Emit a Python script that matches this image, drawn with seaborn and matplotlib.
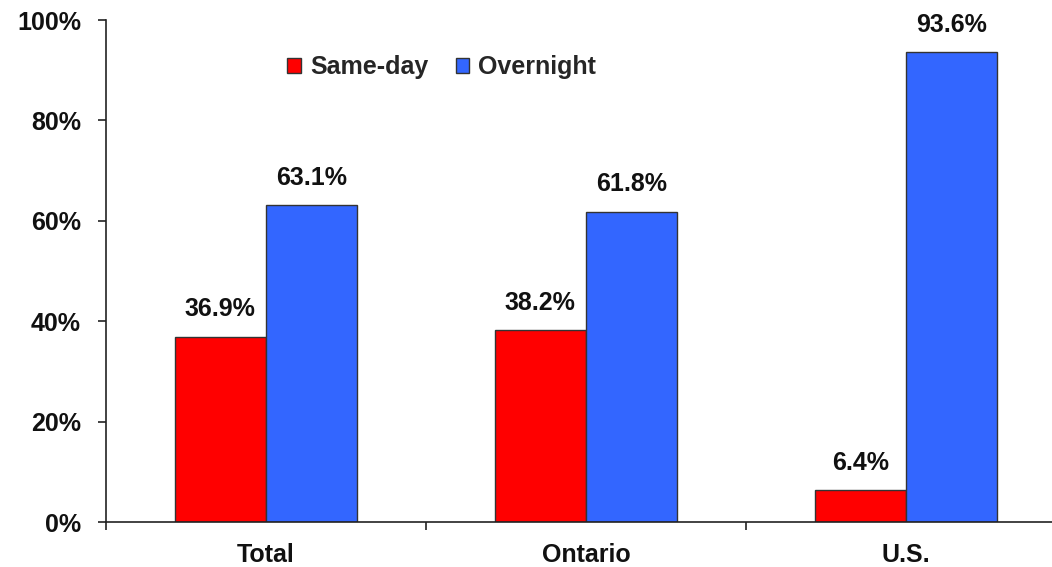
import matplotlib
matplotlib.use("Agg")
import matplotlib.pyplot as plt
import seaborn as sns
import pandas as pd
from matplotlib.patches import Patch
from matplotlib.ticker import FixedLocator

# Trip length share by origin market
categories = ["Total", "Ontario", "U.S."]
series = ["Same-day", "Overnight"]
same_day = [36.9, 38.2, 6.4]
overnight = [63.1, 61.8, 93.6]
y_ticks = [0, 20, 40, 60, 80, 100]
colors = ["#FF0000", "#3366FF"]

df = pd.DataFrame({
    "region": categories * 2,
    "type": [series[0]] * 3 + [series[1]] * 3,
    "share": same_day + overnight,
})

sns.set_theme(style="white")
plt.rcParams["font.family"] = ["Liberation Sans", "DejaVu Sans"]
plt.rcParams["font.weight"] = "bold"

FS = 18

fig = plt.figure(figsize=(10.52, 5.67), dpi=100)
ax = fig.add_axes([106 / 1052, 45 / 567, 960 / 1052, 502 / 567])

sns.barplot(data=df, x="region", y="share", hue="type", order=categories,
            hue_order=series, palette=colors, saturation=1, width=0.57, gap=0,
            edgecolor="#333333", linewidth=1, ax=ax, legend=False)

for cont in ax.containers:
    ax.bar_label(cont, labels=[f"{v:.1f}%" for v in cont.datavalues],
                 padding=11, fontsize=FS, fontweight="bold", color="#111111")

ax.set_xlim(-0.5, 2.5)
ax.set_ylim(0, 100)
ax.set_yticks(y_ticks)
ax.set_yticklabels([f"{t}%" for t in y_ticks], fontsize=FS, fontweight="bold")
ax.set_xticks(range(len(categories)))
ax.set_xticklabels(categories, fontsize=FS, fontweight="bold")
ax.xaxis.set_minor_locator(FixedLocator([-0.5, 0.5, 1.5, 2.5]))
ax.tick_params(axis="x", which="major", length=0, pad=15, colors="#111111")
ax.tick_params(axis="x", which="minor", length=6, width=1.2, direction="out",
               color="#222222", bottom=True)
ax.tick_params(axis="y", length=6, width=1.2, direction="out", pad=12,
               color="#222222", left=True, labelcolor="#111111")
ax.set_xlabel("")
ax.set_ylabel("")

for side in ["top", "right"]:
    ax.spines[side].set_visible(False)
for side in ["left", "bottom"]:
    ax.spines[side].set_color("#222222")
    ax.spines[side].set_linewidth(1.2)

handles = [Patch(facecolor=c, edgecolor="#333333", linewidth=1) for c in colors]
ax.legend(handles, series, loc="center left", bbox_to_anchor=(0.189, 0.906),
          ncol=2, frameon=False, handlelength=0.55, handleheight=0.55,
          handletextpad=0.35, columnspacing=1.1, borderpad=0, borderaxespad=0,
          prop={"weight": "bold", "size": FS})

fig.savefig("out.png", dpi=100)
